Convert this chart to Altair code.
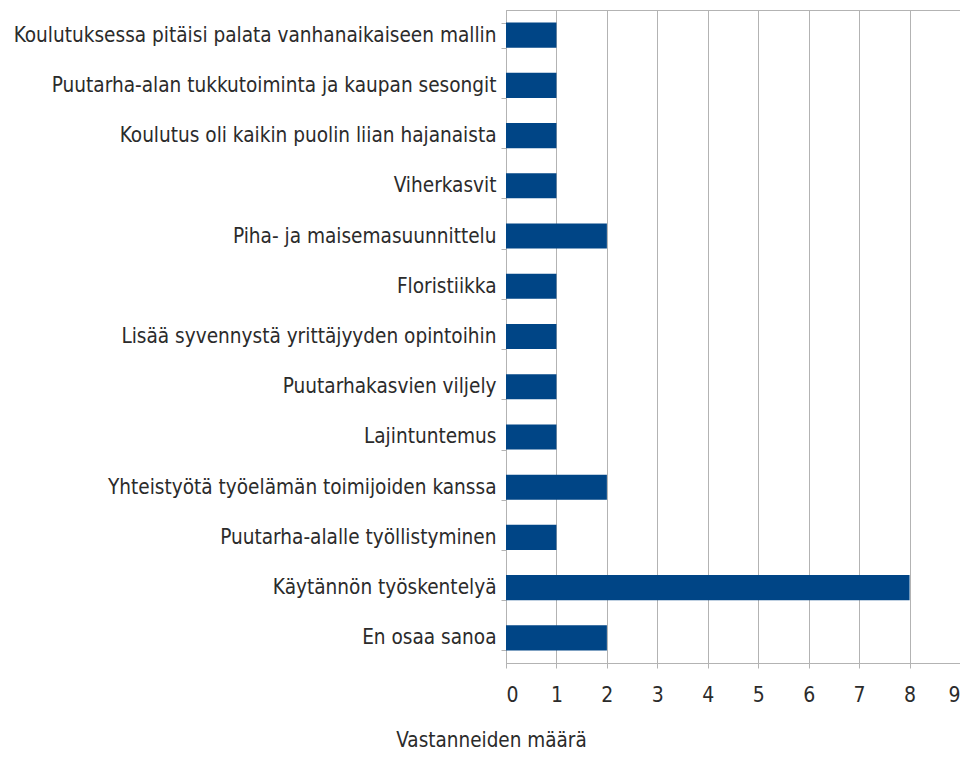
import altair as alt
import pandas as pd

categories = [
    "Koulutuksessa pitäisi palata vanhanaikaiseen mallin",
    "Puutarha-alan tukkutoiminta ja kaupan sesongit",
    "Koulutus oli kaikin puolin liian hajanaista",
    "Viherkasvit",
    "Piha- ja maisemasuunnittelu",
    "Floristiikka",
    "Lisää syvennystä yrittäjyyden opintoihin",
    "Puutarhakasvien viljely",
    "Lajintuntemus",
    "Yhteistyötä työelämän toimijoiden kanssa",
    "Puutarha-alalle työllistyminen",
    "Käytännön työskentelyä",
    "En osaa sanoa",
]
values = [1, 1, 1, 1, 2, 1, 1, 1, 1, 2, 1, 8, 2]
x_ticks = [0, 1, 2, 3, 4, 5, 6, 7, 8, 9]

df = pd.DataFrame({"cat": categories, "n": values})

FONT = "DejaVu Sans Condensed"
TXT = "#2b2b2b"
GRAY = "#b3b3b3"

chart = alt.Chart(df).mark_bar(color="#004586").encode(
    x=alt.X(
        "n:Q",
        scale=alt.Scale(domain=[0, 9], nice=False),
        axis=alt.Axis(
            values=x_ticks,
            title="Vastanneiden määrä",
            titleX=-15,
            titleY=77,
            titleAlign="center",
            titleBaseline="middle",
            titleFont=FONT,
            titleFontSize=20.5,
            titleFontWeight="normal",
            titleColor=TXT,
            labelFont=FONT,
            labelFontSize=21,
            labelColor=TXT,
            labelPadding=16,
            tickSize=5,
            tickColor=GRAY,
            domainColor=GRAY,
            gridColor=GRAY,
            grid=True,
        ),
    ),
    y=alt.Y(
        "cat:N",
        sort=categories,
        scale=alt.Scale(paddingInner=0.5, paddingOuter=0.25),
        axis=alt.Axis(
            title=None,
            labelFont=FONT,
            labelFontSize=20.6,
            labelColor=TXT,
            labelPadding=5,
            labelLimit=0,
            tickBand="extent",
            tickSize=5,
            tickColor=GRAY,
            domainColor=GRAY,
            grid=False,
        ),
    ),
).properties(
    width=454,
    height=653,
    autosize=alt.AutoSizeParams(type="none"),
    padding={"left": 498, "top": 2, "right": 0, "bottom": 91},
).configure_view(stroke=GRAY)

chart.save("out.html", embed_options={"renderer": "svg", "actions": False})
